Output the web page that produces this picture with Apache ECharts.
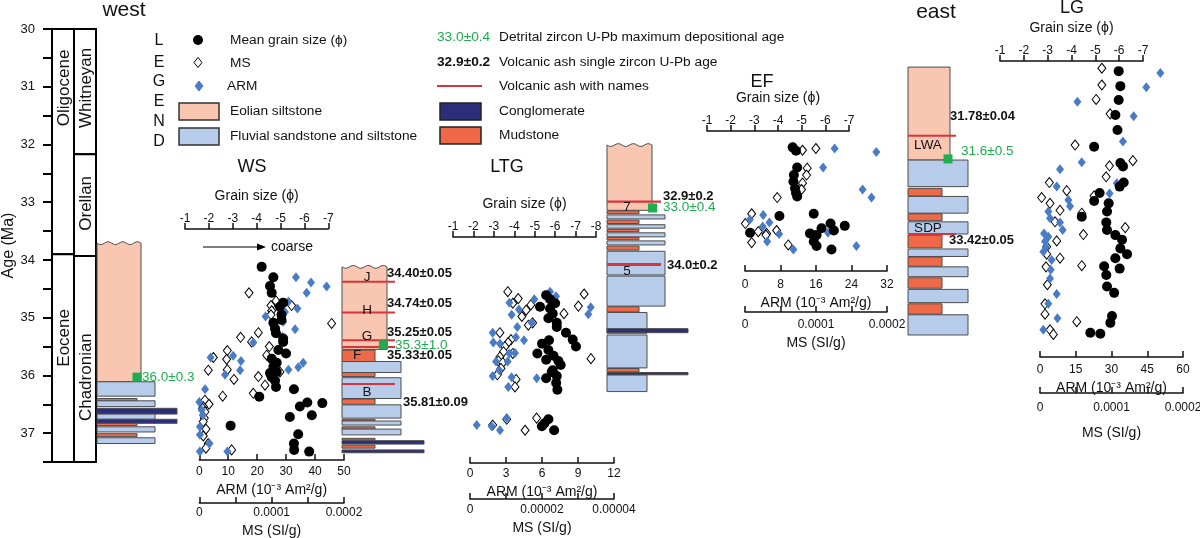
<!DOCTYPE html>
<html><head><meta charset="utf-8">
<script src="https://cdn.jsdelivr.net/npm/echarts@6/dist/echarts.min.js"></script>
<style>html,body{margin:0;padding:0;background:#fff}#c{width:1200px;height:538px}</style>
</head><body><div id="c"></div>
<script>
// ---------------- DATA ----------------
// geologic time scale [name, fromAge, toAge]
const timeEpochs = [['Oligocene', 30, 33.9], ['Eocene', 33.9, 37.5]];
const timeStages = [['Whitneyan', 30, 32.17], ['Orellan', 32.17, 33.93], ['Chadronian', 33.93, 37.5]];

// lithologic columns: [top level, bottom level, lithology] E eolian, S fluvial sand, s fluvial silt, M mudstone, C conglomerate
const westBeds = [[33.71,36.11,'E'],[36.11,36.36,'S'],[36.40,36.44,'M'],[36.44,36.54,'S'],[36.57,36.67,'C'],[36.67,36.76,'S'],[36.76,36.83,'C'],[36.83,36.87,'M'],[36.89,36.98,'S'],[37.01,37.06,'M'],[37.08,37.18,'S']];
const wsBeds = [[34.12,35.55,'E'],[35.56,35.76,'M'],[35.76,35.95,'S'],[35.95,36.02,'M'],[36.04,36.40,'S'],[36.41,36.50,'M'],[36.51,36.74,'S'],[36.76,36.79,'M'],[36.79,36.86,'S'],[36.89,36.93,'M'],[36.93,37.03,'S'],[37.09,37.12,'M'],[37.13,37.19,'C'],[37.21,37.26,'M'],[37.29,37.34,'C']];
const ltgBeds = [[32.01,33.14,'E'],[33.15,33.20,'M'],[33.22,33.29,'S'],[33.31,33.37,'M'],[33.39,33.45,'S'],[33.47,33.51,'M'],[33.53,33.60,'S'],[33.61,33.65,'M'],[33.67,33.74,'S'],[33.76,33.83,'M'],[33.85,34.26,'S'],[34.28,34.80,'S'],[34.81,34.90,'M'],[34.91,35.27,'s'],[35.30,35.87,'s'],[35.88,35.94,'M'],[35.99,36.28,'s'],[35.19,35.26,'C'],[35.95,35.99,'C']];
const efBeds = [[30.66,32.27,'E'],[32.27,32.73,'S'],[32.76,32.89,'M'],[32.90,33.19,'S'],[33.20,33.32,'M'],[33.34,33.55,'S'],[33.57,33.79,'M'],[33.81,33.94,'S'],[33.95,34.11,'M'],[34.12,34.29,'S'],[34.31,34.49,'M'],[34.51,34.74,'S'],[34.76,34.94,'M'],[34.95,35.30,'S']];

// volcanic ash levels
const wsAsh = [34.38, 34.91, 35.39, 35.51, 36.15];
const ltgAsh = [32.99, 34.08];
const efAsh = [31.85, 33.55];
// ash / bed names [text, level]
const wsNames = [['J',34.30],['H',34.87],['G',35.32],['F',35.65],['B',36.29]];
const ltgNames = [['7',33.08],['5',34.20]];
const efNames = [['LWA',32.01],['SDP',33.45]];
// volcanic ash single zircon U-Pb ages [text, level]
const wsDates = [['34.40±0.05',34.23],['34.74±0.05',34.76],['35.25±0.05',35.25],['35.33±0.05',35.66],['35.81±0.09',36.46]];
const ltgDates = [['32.9±0.2',32.90],['34.0±0.2',34.09]];
const efDates = [['31.78±0.04',31.52],['33.42±0.05',33.67]];
// detrital zircon maximum depositional ages [text, level]
const westZircon = [['36.0±0.3',36.03]];
const wsZircon = [['35.3±1.0',35.47]];
const ltgZircon = [['33.0±0.4',33.10]];
const efZircon = [['31.6±0.5',32.25]];

// WS section  [age, value]
const wsGrain = [[34.12,-4.21],[34.30,-4.70],[34.45,-4.56],[34.57,-4.63],[34.74,-5.11],[34.81,-4.97],[34.95,-5.04],[35.04,-5.04],[35.09,-4.70],[35.19,-4.77],[35.27,-4.81],[35.36,-5.11],[35.42,-5.11],[35.56,-4.91],[35.62,-5.23],[35.71,-4.63],[35.78,-4.84],[35.85,-4.70],[35.94,-4.84],[35.96,-4.56],[36.03,-4.63],[36.09,-4.77],[36.20,-4.81],[36.24,-5.56],[36.37,-4.11],[36.47,-6.12],[36.48,-6.75],[36.54,-5.81],[36.69,-6.31],[36.72,-5.39],[36.87,-2.91],[37.02,-5.74],[37.18,-5.56],[37.29,-5.57],[37.32,-6.20]];
const wsMS = [[34.57,68.7e-6],[34.71,106e-6],[34.79,127.6e-6],[34.79,99.1e-6],[34.88,100e-6],[34.95,99.1e-6],[35.10,182.9e-6],[35.26,81.6e-6],[35.34,57.1e-6],[35.42,72.3e-6],[35.50,96.8e-6],[35.57,38.7e-6],[35.65,93.1e-6],[35.69,19.4e-6],[35.72,37.8e-6],[35.90,38.7e-6],[35.91,12.4e-6],[35.94,111.5e-6],[36.02,81.6e-6],[36.07,47.9e-6],[36.17,90.8e-6],[36.31,74.6e-6],[36.36,32.3e-6],[36.43,7.8e-6],[36.50,13.4e-6],[36.54,5.5e-6],[36.57,4.6e-6],[36.63,7.8e-6],[36.74,6.9e-6],[36.80,5.5e-6],[36.93,9.2e-6],[37.05,5.5e-6],[37.18,12.4e-6],[37.26,9.2e-6],[37.29,44.7e-6]];
const wsARM = [[34.30,33.4],[34.39,38.6],[34.46,44.0],[34.57,37.1],[34.72,30.8],[34.84,33.9],[34.90,29.6],[34.98,22.9],[35.07,29.0],[35.20,33.1],[35.33,28.7],[35.39,29.0],[35.43,18.7],[35.66,11.7],[35.69,3.9],[35.75,14.4],[35.78,35.9],[35.86,34.2],[35.90,30.8],[35.91,14.1],[35.99,8.9],[36.24,2.0],[36.46,0.0],[36.60,0.8],[36.69,1.2],[36.89,0.2],[37.03,0.2],[37.18,3.5],[37.32,0.2],[37.32,9.7]];

// LTG section
const ltgGrain = [[34.61,-5.56],[34.68,-5.75],[34.75,-6.00],[34.81,-5.26],[34.84,-5.75],[34.93,-5.88],[35.01,-5.67],[35.09,-6.08],[35.16,-6.08],[35.26,-6.53],[35.38,-6.86],[35.39,-5.70],[35.45,-5.36],[35.50,-7.02],[35.56,-5.67],[35.62,-5.13],[35.66,-5.92],[35.73,-5.56],[35.75,-6.16],[35.82,-6.27],[35.91,-5.88],[35.94,-5.83],[36.01,-6.08],[36.05,-5.56],[36.13,-6.05],[36.25,-6.11],[36.76,-5.67],[36.83,-5.48],[36.88,-5.35],[36.95,-5.95]];
const ltgMS = [[34.55,10.5e-6],[34.59,31.7e-6],[34.67,13.4e-6],[34.75,11.9e-6],[34.78,16.9e-6],[34.80,30.1e-6],[34.87,15.6e-6],[34.93,26.1e-6],[34.98,14.4e-6],[35.09,17.4e-6],[35.13,16.2e-6],[35.26,8.3e-6],[35.38,11.4e-6],[35.43,10.6e-6],[35.50,9.7e-6],[35.59,9.3e-6],[35.62,11.9e-6],[35.68,8.3e-6],[35.71,33.6e-6],[35.75,7.9e-6],[35.78,9.1e-6],[35.88,8.6e-6],[35.99,7.6e-6],[36.07,12.8e-6],[36.20,12.5e-6],[36.74,18.5e-6],[36.76,10.2e-6],[36.86,6.3e-6],[36.95,15.3e-6]];
const ltgARM = [[34.55,6.67],[34.63,7.17],[34.68,5.36],[34.74,3.28],[34.82,10.06],[34.86,4.08],[34.94,9.86],[34.95,3.47],[35.09,5.14],[35.16,3.94],[35.26,1.89],[35.34,3.83],[35.39,4.5],[35.43,1.94],[35.45,2.5],[35.61,3.75],[35.62,3.28],[35.76,2.17],[35.76,3.14],[35.91,2.44],[36.01,1.89],[36.03,3.47],[36.05,5.56],[36.20,3.19],[36.74,3.06],[36.86,0.56],[36.88,1.81],[36.95,2.5]];

// EF section
const efGrain = [[32.05,-4.62],[32.11,-4.76],[32.40,-4.81],[32.53,-4.67],[32.64,-4.65],[32.76,-4.72],[32.84,-4.76],[32.90,-4.81],[33.20,-5.51],[33.24,-4.06],[33.37,-6.22],[33.41,-6.82],[33.45,-5.84],[33.49,-6.36],[33.53,-2.82],[33.54,-5.35],[33.57,-5.63],[33.68,-5.51],[33.76,-5.63],[33.82,-6.26]];
const efMS = [[32.07,99.8e-6],[32.10,81.0e-6],[32.41,87.6e-6],[32.53,86.7e-6],[32.67,81.0e-6],[32.78,79.6e-6],[32.92,45.4e-6],[33.20,9.4e-6],[33.37,0.5e-6],[33.49,44.5e-6],[33.51,18.7e-6],[33.54,30.4e-6],[33.57,29.5e-6],[33.70,9.4e-6],[33.74,60.9e-6]];
const efARM = [[32.07,20.2],[32.13,29.6],[32.40,17.6],[32.78,26.5],[32.92,28.5],[33.22,4.1],[33.30,1.1],[33.35,5.5],[33.42,4.0],[33.53,18.7],[33.55,7.7],[33.68,5.0],[33.76,25.1],[33.82,10.9]];

// LG section
const lgGrain = [[30.73,-5.98],[30.99,-6.05],[31.23,-5.98],[31.49,-5.84],[31.75,-5.93],[32.04,-4.95],[32.32,-6.05],[32.38,-6.16],[32.66,-6.19],[32.73,-6.02],[32.84,-5.18],[32.98,-4.95],[33.02,-5.56],[33.16,-5.49],[33.25,-4.43],[33.35,-5.46],[33.48,-5.49],[33.57,-5.84],[33.65,-6.12],[33.80,-6.05],[33.90,-6.33],[33.97,-5.84],[34.11,-5.37],[34.15,-6.02],[34.26,-5.46],[34.46,-5.49],[34.57,-5.79],[34.97,-5.70],[35.09,-5.63],[35.26,-4.79],[35.28,-5.21]];
const lgMS = [[30.68,86.5e-6],[30.97,86.5e-6],[31.22,78.5e-6],[31.47,98.1e-6],[32.01,49.1e-6],[32.28,129.9e-6],[32.37,97.2e-6],[32.56,92.5e-6],[32.66,13.1e-6],[32.80,37.4e-6],[32.89,75.7e-6],[32.92,2.3e-6],[33.02,14.0e-6],[33.14,28.0e-6],[33.19,58.4e-6],[33.34,21.0e-6],[33.44,119.2e-6],[33.56,60.7e-6],[33.67,23.4e-6],[33.77,9.3e-6],[33.90,9.3e-6],[33.97,28.0e-6],[34.10,58.4e-6],[34.12,8.4e-6],[34.43,10.3e-6],[34.76,7.0e-6],[34.94,7.0e-6],[35.07,51.4e-6],[35.21,14.0e-6],[35.29,18.7e-6]];
const lgARM = [[30.76,50.5],[31.01,44.6],[31.26,15.7],[31.51,39.3],[31.95,34.8],[32.31,17.5],[32.43,8.4],[32.67,32.2],[32.73,7.0],[32.85,29.2],[32.96,11.9],[33.07,12.6],[33.16,3.5],[33.28,4.2],[33.35,8.4],[33.48,9.5],[33.54,1.7],[33.60,3.5],[33.68,2.1],[33.78,2.5],[33.86,1.4],[34.00,4.9],[34.17,4.5],[34.32,4.2],[34.59,7.0],[34.76,3.5],[35.01,7.3],[35.21,1.4]];

// ---------------- LAYOUT / STYLE ----------------
const FONT = "'Liberation Sans', Arial, sans-serif";
const C_EOL = '#F9C7B1', C_FLU = '#B7CBEA', C_CGL = '#2B2E7B', C_MUD = '#EE6947', C_ASH = '#D7353E', C_ZIR = '#1EAE4E', C_ARM = '#4A7BC6';
const LITH = {E: C_EOL, S: C_FLU, s: C_FLU, M: C_MUD, C: C_CGL};
const TOP = 29, HEIGHT = 433;
const timeLabelAt = {Oligocene: 31.02, Eocene: 35.35, Whitneyan: 31.02, Orellan: 33.02, Chadronian: 36.03};

const grids = [], xAxes = [], yAxes = [], series = [];
function addGrid(left, width, xa) {
  const i = grids.length;
  grids.push({left: left, top: TOP, width: width, height: HEIGHT, containLabel: false, outerBoundsMode: 'none'});
  yAxes.push({gridIndex: i, type: 'value', min: 30, max: 37.5, inverse: true, show: false});
  xAxes.push(Object.assign({gridIndex: i, type: 'value'}, xa));
  return i;
}
const hidden = w => ({min: 0, max: w, show: false});
const lineSt = {color: '#111', width: 1.5};
function phiAxis(min, offset) {
  return {position: 'top', offset: offset, min: min, max: -1, interval: 1, inverse: true,
    name: 'Grain size (ϕ)', nameLocation: 'middle', nameGap: 26,
    nameTextStyle: {fontSize: 14, color: '#111', fontFamily: FONT},
    axisLine: {show: true, onZero: false, lineStyle: lineSt},
    axisTick: {show: true, inside: false, length: 6, lineStyle: lineSt},
    axisLabel: {fontSize: 12, color: '#111', margin: 4, fontFamily: FONT},
    splitLine: {show: false}};
}
function botAxis(max, interval, offset, name, gap, fmt, margin) {
  return {position: 'bottom', offset: offset, min: 0, max: max, interval: interval,
    name: name, nameLocation: 'middle', nameGap: gap,
    nameTextStyle: {fontSize: 14, color: '#111', fontFamily: FONT},
    axisLine: {show: true, onZero: false, lineStyle: lineSt},
    axisTick: {show: true, inside: true, length: 6, lineStyle: lineSt},
    axisLabel: {fontSize: 12, color: '#111', margin: margin || 5, fontFamily: FONT, formatter: fmt, showMinLabel: true, showMaxLabel: true},
    splitLine: {show: false}};
}
const armName = 'ARM (10⁻³ Am²/g)', msName = 'MS (SI/g)';
const msFmt = step => v => { const k = v / step; return Math.abs(k - Math.round(k)) < 1e-6 ? (Math.round(k) === 0 ? '0' : String(+(Math.round(k) * step).toPrecision(3))) : ''; };

function pts(gi, data, kind) {
  const st = {
    grain: {symbol: 'circle', symbolSize: 10, itemStyle: {color: '#000', opacity: 1}, z: 4},
    ms: {symbol: 'diamond', symbolSize: [8, 10], itemStyle: {color: '#fff', borderColor: '#000', borderWidth: 1, opacity: 1}, z: 3},
    arm: {symbol: 'diamond', symbolSize: [8, 10], itemStyle: {color: C_ARM, opacity: 1}, z: 3}
  }[kind];
  return Object.assign({type: 'scatter', xAxisIndex: gi, yAxisIndex: gi, silent: true, animation: false,
    data: data.map(d => [d[1], d[0]])}, st);
}
function colSeries(gi, beds, widths, wavy) {
  return {type: 'custom', xAxisIndex: gi, yAxisIndex: gi, silent: true, animation: false, z: 2,
    data: beds.map(b => [0, b[0], b[1]]), encode: {x: 0, y: [1, 2]},
    renderItem: function (params, api) {
      const b = beds[params.dataIndex];
      const p0 = api.coord([0, b[0]]), p1 = api.coord([widths[b[2]], b[1]]);
      const style = {fill: LITH[b[2]], stroke: '#4d4d4d', lineWidth: 1};
      if (wavy && b[2] === 'E') {
        const pp = [[p0[0], p1[1]], [p0[0], p0[1]]];
        const n = 30;
        for (let i = 1; i <= n; i++) pp.push([p0[0] + (p1[0] - p0[0]) * i / n, p0[1] + 1.4 * Math.sin(i / n * Math.PI * 6)]);
        pp.push([p1[0], p1[1]]);
        return {type: 'polygon', shape: {points: pp}, style: style};
      }
      return {type: 'rect', shape: {x: p0[0], y: p0[1], width: p1[0] - p0[0], height: p1[1] - p0[1]}, style: style};
    }};
}
function ashSeries(gi, levels, len, widthFn) {
  return {type: 'custom', xAxisIndex: gi, yAxisIndex: gi, silent: true, animation: false, z: 3,
    data: levels.map(l => [0, l]), encode: {x: 0, y: 1},
    renderItem: function (params, api) {
      const l = levels[params.dataIndex];
      const a = api.coord([0, l]), b = api.coord([len, l]);
      return {type: 'line', shape: {x1: a[0], y1: a[1], x2: b[0], y2: b[1]}, style: {stroke: C_ASH, lineWidth: widthFn ? widthFn(params.dataIndex) : 2}};
    }};
}
function textSeries(gi, items, dx, dy, st, align) {
  return {type: 'custom', xAxisIndex: gi, yAxisIndex: gi, silent: true, animation: false, z: 5,
    data: items.map(t => [0, t[1]]), encode: {x: 0, y: 1},
    renderItem: function (params, api) {
      const t = items[params.dataIndex];
      const d = Array.isArray(dx) ? dx[params.dataIndex] : (typeof dx === 'function' ? dx(t) : dx);
      const p = api.coord([d, t[1]]);
      return {type: 'text', x: p[0], y: p[1] + dy, style: Object.assign({text: t[0], fill: '#111', fontSize: 13, fontFamily: FONT, align: align || 'left', verticalAlign: 'middle'}, st)};
    }};
}
function zirconSeries(gi, items, dx) {
  return {type: 'scatter', xAxisIndex: gi, yAxisIndex: gi, silent: true, animation: false, z: 6,
    symbol: 'rect', symbolSize: 9, itemStyle: {color: C_ZIR, opacity: 1}, data: items.map(t => [dx, t[1]])};
}
const dateSt = {fontWeight: 'bold', fontSize: 13, fill: '#111'};
const zirSt = {fill: C_ZIR, fontSize: 13.5};

// --- time scale + main age axis
const gT = addGrid(52, 44, hidden(44));
yAxes[gT] = {gridIndex: gT, type: 'value', min: 30, max: 37.5, interval: 0.5, inverse: true, position: 'left',
  name: 'Age (Ma)', nameLocation: 'middle', nameGap: 33, nameRotate: 90,
  nameTextStyle: {fontSize: 16, color: '#111', fontFamily: FONT},
  axisLine: {show: true, lineStyle: {color: '#000', width: 2}},
  axisTick: {show: true, length: 9, lineStyle: {color: '#000', width: 2}},
  axisLabel: {fontSize: 13, color: '#111', margin: 17, fontFamily: FONT, formatter: v => Math.abs(v - Math.round(v)) < 1e-9 ? String(Math.round(v)) : ''},
  splitLine: {show: false}};
const timeUnits = timeEpochs.map(e => [e[0], e[1], e[2], 0]).concat(timeStages.map(e => [e[0], e[1], e[2], 1]));
series.push({type: 'custom', xAxisIndex: gT, yAxisIndex: gT, silent: true, animation: false, z: 2,
  data: timeUnits.map(u => [0, u[1], u[2]]), encode: {x: 0, y: [1, 2]},
  renderItem: function (params, api) {
    const u = timeUnits[params.dataIndex];
    const p0 = api.coord([u[3] * 22, u[1]]), p1 = api.coord([u[3] * 22 + 22, u[2]]);
    const lc = api.coord([0, timeLabelAt[u[0]]]);
    return {type: 'group', children: [
      {type: 'rect', shape: {x: p0[0], y: p0[1], width: p1[0] - p0[0], height: p1[1] - p0[1]}, style: {fill: '#fff', stroke: '#000', lineWidth: 2}},
      {type: 'text', x: (p0[0] + p1[0]) / 2 + 1, y: lc[1], rotation: Math.PI / 2,
        style: {text: u[0], fill: '#111', fontSize: 17, fontFamily: FONT, align: 'center', verticalAlign: 'middle'}}
    ]};
  }});

// --- west column
const gW = addGrid(97, 100, hidden(100));
series.push(colSeries(gW, westBeds, {E: 44, S: 58, M: 40, C: 80}, true));
series.push(zirconSeries(gW, westZircon, 40));
series.push(textSeries(gW, westZircon, 45, 0, zirSt));

// --- WS
const gWSp = addGrid(185, 143.3, phiAxis(-7, -200));
const gWSa = addGrid(199.3, 144.7, botAxis(50, 10, -2, armName, 20, undefined, 6));
const gWSm = addGrid(199.3, 144.7, botAxis(0.0002, 0.00005, 41, msName, 17, msFmt(0.0001), 4));
series.push(pts(gWSm, wsMS, 'ms'), pts(gWSa, wsARM, 'arm'), pts(gWSp, wsGrain, 'grain'));
const gWSc = addGrid(342, 100, hidden(100));
series.push(colSeries(gWSc, wsBeds, {E: 45, S: 59, M: 33, C: 82}, true));
series.push(ashSeries(gWSc, wsAsh, 53));
series.push(textSeries(gWSc, wsNames, t => t[0] === 'F' ? 15 : 25, 0, {fontSize: 13.5}, 'center'));
series.push(textSeries(gWSc, wsDates, [45, 45, 45, 45, 61], 0, dateSt));
series.push(zirconSeries(gWSc, wsZircon, 41.5));
series.push(textSeries(gWSc, wsZircon, 53, 0, zirSt));

// --- LTG
const gLp = addGrid(453, 143, phiAxis(-8, -208));
const gLa = addGrid(470, 144, botAxis(12, 3, 1, armName, 17, undefined, 5));
const gLm = addGrid(470, 144, botAxis(0.00004, 0.00001, 37, msName, 20, msFmt(0.00002), 5));
series.push(pts(gLm, ltgMS, 'ms'), pts(gLa, ltgARM, 'arm'), pts(gLp, ltgGrain, 'grain'));
const gLc = addGrid(607, 100, hidden(100));
series.push(colSeries(gLc, ltgBeds, {E: 45, S: 58, s: 40, M: 32, C: 81}, true));
series.push(ashSeries(gLc, ltgAsh, 54, i => i === 1 ? 3 : 2.2));
series.push(textSeries(gLc, ltgNames, 20, 0, {fontSize: 13.5}, 'center'));
series.push(textSeries(gLc, ltgDates, [56, 60], 0, dateSt));
series.push(zirconSeries(gLc, ltgZircon, 45.5));
series.push(textSeries(gLc, ltgZircon, 56, -1, zirSt));

// --- EF
const gEp = addGrid(707, 142, phiAxis(-7, -102));
const gEa = addGrid(745, 142, botAxis(32, 8, -191, armName, 21, undefined, 8));
const gEm = addGrid(745, 142, botAxis(0.0002, 0.00005, -150, msName, 24, msFmt(0.0001), 7));
series.push(pts(gEm, efMS, 'ms'), pts(gEa, efARM, 'arm'), pts(gEp, efGrain, 'grain'));
const gEc = addGrid(908, 100, hidden(100));
series.push(colSeries(gEc, efBeds, {E: 42, S: 60, M: 34}, false));
series.push(ashSeries(gEc, efAsh, 48));
series.push(textSeries(gEc, efNames, 20, 0, {fontSize: 13.5}, 'center'));
series.push(textSeries(gEc, efDates, [42, 41], 0, dateSt));
series.push(zirconSeries(gEc, efZircon, 40));
series.push(textSeries(gEc, efZircon, 53, -8, zirSt));

// --- LG
const gGp = addGrid(1000, 143, phiAxis(-7, -32));
const gGa = addGrid(1040, 143, botAxis(60, 15, -105, armName, 23, undefined, 7));
const gGm = addGrid(1040, 143, botAxis(0.0002, 0.00005, -69, msName, 33, msFmt(0.0001), 9));
series.push(pts(gGm, lgMS, 'ms'), pts(gGa, lgARM, 'arm'), pts(gGp, lgGrain, 'grain'));

// --- graphics (titles, legend)
const LF = 13.7;
const T = (x, y, text, o) => ({type: 'text', x: x, y: y, silent: true, z: 10,
  style: Object.assign({text: text, fill: '#111', fontSize: LF, fontFamily: FONT, align: 'left', verticalAlign: 'middle'}, o || {})});
const diamond = (x, y, fill, stroke) => ({type: 'polygon', silent: true, z: 10, shape: {points: [[x, y - 5], [x + 4, y], [x, y + 5], [x - 4, y]]}, style: {fill: fill, stroke: stroke, lineWidth: 1}});
const graphic = [
  T(124, 10, 'west', {fontSize: 21, align: 'center'}),
  T(936, 12, 'east', {fontSize: 21, align: 'center'}),
  T(252, 167, 'WS', {fontSize: 18, align: 'center'}),
  T(507, 167, 'LTG', {fontSize: 18, align: 'center'}),
  T(762, 82, 'EF', {fontSize: 18, align: 'center'}),
  T(1072, 8, 'LG', {fontSize: 18, align: 'center'})
];
['L', 'E', 'G', 'E', 'N', 'D'].forEach((c, i) => graphic.push(T(159, [41, 63, 82, 102, 122, 142][i], c, {fontSize: 16, align: 'center'})));
graphic.push(
  {type: 'circle', silent: true, z: 10, shape: {cx: 198, cy: 40, r: 5}, style: {fill: '#000'}},
  diamond(198, 62.5, '#fff', '#000'),
  diamond(199, 86, C_ARM, C_ARM),
  {type: 'rect', silent: true, z: 10, shape: {x: 179, y: 103, width: 40, height: 17}, style: {fill: C_EOL, stroke: '#333', lineWidth: 1.5}},
  {type: 'rect', silent: true, z: 10, shape: {x: 179, y: 128, width: 40, height: 17}, style: {fill: C_FLU, stroke: '#333', lineWidth: 1.5}},
  T(230, 40, 'Mean grain size (ϕ)'),
  T(230, 63, 'MS'),
  T(227, 86, 'ARM'),
  T(230, 111, 'Eolian siltstone'),
  T(230, 136, 'Fluvial sandstone and siltstone'),
  T(437, 37, '33.0±0.4', {fill: C_ZIR}),
  T(499, 37, 'Detrital zircon U-Pb maximum depositional age'),
  T(437, 62, '32.9±0.2', {fontWeight: 'bold'}),
  T(499, 62, 'Volcanic ash single zircon U-Pb age'),
  {type: 'line', silent: true, z: 10, shape: {x1: 437, y1: 86, x2: 482, y2: 86}, style: {stroke: C_ASH, lineWidth: 2}},
  T(499, 86, 'Volcanic ash with names'),
  {type: 'rect', silent: true, z: 10, shape: {x: 440, y: 103, width: 41, height: 17}, style: {fill: C_CGL, stroke: '#222', lineWidth: 1.5}},
  T(499, 111, 'Conglomerate'),
  {type: 'rect', silent: true, z: 10, shape: {x: 440, y: 127, width: 41, height: 17}, style: {fill: C_MUD, stroke: '#222', lineWidth: 1.5}},
  T(499, 135, 'Mudstone'),
  {type: 'line', silent: true, z: 10, shape: {x1: 203, y1: 247, x2: 258, y2: 247}, style: {stroke: '#000', lineWidth: 1}},
  {type: 'polygon', silent: true, z: 10, shape: {points: [[266, 247], [257, 243.5], [257, 250.5]]}, style: {fill: '#000'}},
  T(271, 247, 'coarse', {fontSize: 14})
);

const chart = echarts.init(document.getElementById('c'), null, {renderer: 'canvas'});
chart.setOption({
  backgroundColor: '#fff', animation: false, tooltip: {show: false},
  grid: grids, xAxis: xAxes, yAxis: yAxes, series: series, graphic: graphic
});
</script></body></html>
